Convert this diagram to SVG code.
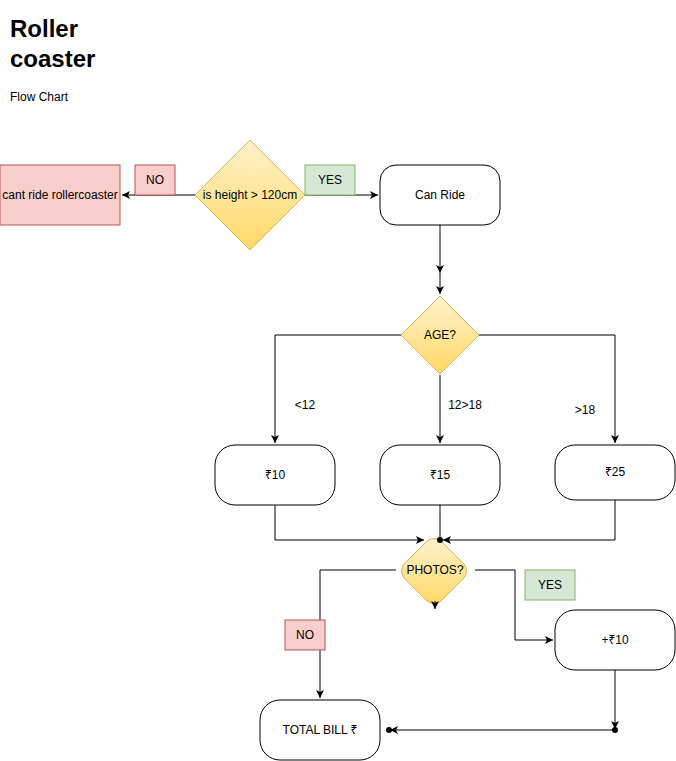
<svg xmlns="http://www.w3.org/2000/svg" width="676" height="761" viewBox="0 0 676 761">
<style>
text{font-family:"Liberation Sans","Noto Sans","DejaVu Sans",sans-serif;font-size:12px;fill:#000}
.c{text-anchor:middle;dominant-baseline:central}
.box{fill:#fff;stroke:#000;stroke-width:1}
.red{fill:#f8cecc;stroke:#b85450}
.green{fill:#d5e8d4;stroke:#82b366}
.dia{fill:url(#yg);stroke:#d6b656}
.e{fill:none;stroke:#000;stroke-width:1}
</style>
<defs>
<linearGradient id="yg" x1="0" y1="0" x2="0" y2="1">
<stop offset="0" stop-color="#fff2cc"/>
<stop offset="1" stop-color="#ffd966"/>
</linearGradient>
<marker id="a" markerWidth="10" markerHeight="10" refX="8" refY="4" orient="auto" markerUnits="userSpaceOnUse">
<path d="M0,0 L8,4 L0,8 L2,4 Z" fill="#000"/>
</marker>
<marker id="d" markerWidth="8" markerHeight="8" refX="4" refY="4" orient="auto" markerUnits="userSpaceOnUse">
<circle cx="4" cy="4" r="3" fill="#000"/>
</marker>
</defs>
<g id="title">
<text x="10" y="37" style="font-size:24px;font-weight:bold">Roller</text>
<text x="10" y="67" style="font-size:24px;font-weight:bold">coaster</text>
<text x="10" y="101">Flow Chart</text>
</g>
<g id="cant"><rect class="red" x="0" y="165" width="120" height="60"/><text class="c" x="60" y="195">cant ride rollercoaster</text></g>
<g id="height"><path class="dia" d="M250,140 L305,195 L250,250 L195,195 Z"/><text class="c" x="250" y="195">is height &gt; 120cm</text></g>
<g id="canride"><rect class="box" x="380" y="165" width="120" height="60" rx="16"/><text class="c" x="440" y="195">Can Ride</text></g>
<g id="age"><path class="dia" d="M440,296 L479,335 L440,374 L401,335 Z" stroke-linejoin="round"/><text class="c" x="440" y="335">AGE?</text></g>
<g id="p10"><rect class="box" x="215" y="445" width="120" height="60" rx="20"/><text class="c" x="275" y="475">₹10</text></g>
<g id="p15"><rect class="box" x="380" y="445" width="120" height="60" rx="20"/><text class="c" x="440" y="475">₹15</text></g>
<g id="p25"><rect class="box" x="555" y="445" width="120" height="55" rx="20"/><text class="c" x="615" y="472">₹25</text></g>
<g id="photos"><path class="dia" d="M427,541 Q434,536 441,541 L464,564 Q469,571 464,578 L441,601 Q434,607 427,601 L404,578 Q399,571 404,564 Z"/><text class="c" x="435" y="570">PHOTOS?</text></g>
<g id="plus10"><rect class="box" x="555" y="610" width="120" height="60" rx="20"/><text class="c" x="615" y="640">+₹10</text></g>
<g id="total"><rect class="box" x="260" y="700" width="120" height="60" rx="20"/><text class="c" x="320" y="730">TOTAL BILL ₹</text></g>
<g id="edges">
<path class="e" d="M195,195 L122,195" marker-end="url(#a)"/>
<path class="e" d="M305,195 L378,195" marker-end="url(#a)"/>
<path class="e" d="M440,225 L440,273" marker-end="url(#a)"/>
<path class="e" d="M440,273 L440,294" marker-end="url(#a)"/>
<path class="e" d="M401,335 L275,335 L275,443" marker-end="url(#a)"/>
<path class="e" d="M440,375 L440,443" marker-end="url(#a)"/>
<path class="e" d="M479,335 L615,335 L615,443" marker-end="url(#a)"/>
<path class="e" d="M275,505 L275,540 L424,540" marker-end="url(#a)"/>
<path class="e" d="M440,505 L440,540" marker-end="url(#d)"/>
<path class="e" d="M615,500 L615,540 L443,540" marker-end="url(#a)"/>
<path class="e" d="M435,601 L435,609" marker-end="url(#a)"/>
<path class="e" d="M396,570 L320,570 L320,698" marker-end="url(#a)"/>
<path class="e" d="M475,570 L515,570 L515,640 L553,640" marker-end="url(#a)"/>
<path class="e" d="M615,670 L615,729" marker-end="url(#a)"/>
<circle cx="615" cy="730" r="3"/>
<path class="e" d="M615,730 L390,730" marker-end="url(#a)"/>
<circle cx="389" cy="730" r="3"/>
</g>
<g id="lbl-no1"><rect class="red" x="135" y="165" width="40" height="30"/><text class="c" x="155" y="180">NO</text></g>
<g id="lbl-yes1"><rect class="green" x="305" y="165" width="50" height="30"/><text class="c" x="330" y="180">YES</text></g>
<g id="lbl-lt12"><text class="c" x="305" y="405">&lt;12</text></g>
<g id="lbl-12-18"><text class="c" x="465" y="405">12&gt;18</text></g>
<g id="lbl-gt18"><text class="c" x="585" y="410">&gt;18</text></g>
<g id="lbl-no2"><rect class="red" x="285" y="620" width="40" height="30"/><text class="c" x="305" y="635">NO</text></g>
<g id="lbl-yes2"><rect class="green" x="525" y="570" width="50" height="30"/><text class="c" x="550" y="585">YES</text></g>
</svg>
